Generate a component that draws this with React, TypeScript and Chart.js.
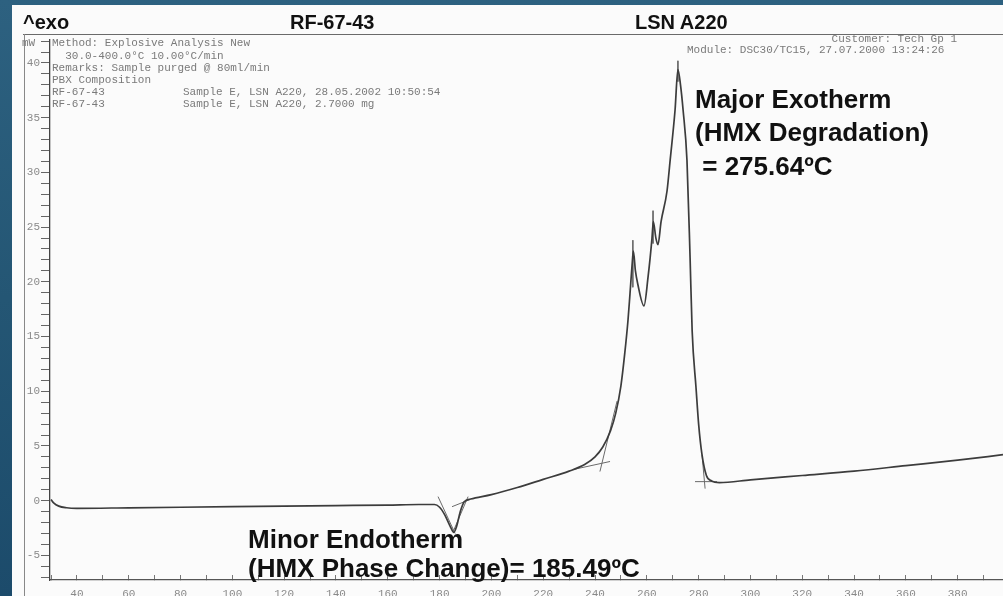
import React, { useEffect, useRef } from "react";
import { Chart, registerables } from "chart.js";

Chart.register(...registerables);

// DSC trace: temperature (°C) vs heat flow (mW)
const temperatures = [
  30, 31, 33, 36, 40, 60, 80, 100, 120, 140, 160, 172, 178, 180, 182, 184, 185.5,
  186.5, 188, 189.5, 192, 200, 210, 220, 230, 236, 240, 243, 246, 248, 250, 251.5,
  252.7, 253.5, 254.3, 254.8, 255.6, 256.5, 258.9, 260.5, 262, 262.5, 263.5, 264.3,
  265.5, 267.8, 269, 270.9, 272, 273, 274, 275.5, 276.7, 277.5, 279, 280, 281.3, 283,
  285, 288, 300, 320, 340, 360, 380, 397.5,
];
const heatFlow = [
  0.1, -0.2, -0.5, -0.65, -0.7, -0.65, -0.6, -0.55, -0.5, -0.45, -0.4, -0.35, -0.35,
  -0.6, -1.3, -2.3, -2.9, -2.4, -1.0, -0.1, 0.15, 0.55, 1.2, 1.95, 2.7, 3.3, 4.0, 4.9,
  6.4, 8.0, 10.5, 13.5, 16.4, 18.9, 21.5, 22.8, 21.0, 19.8, 17.8, 20.5, 24.0, 25.5,
  24.0, 23.4, 25.5, 28.3, 31.1, 35.7, 39.4, 38.0, 35.7, 31.1, 22.2, 15.5, 10.3, 7.0,
  4.2, 2.3, 1.8, 1.65, 1.9, 2.3, 2.7, 3.2, 3.7, 4.2,
];

// Evaluation construction lines (tangents / markers): [t1, v1, t2, v2]
const constructionSegments = [
  [179.4, 0.37, 186.0, -3.0],
  [191.0, 0.37, 185.2, -2.85],
  [184.8, -0.55, 191.7, 0.1],
  [231.5, 2.84, 245.8, 3.58],
  [241.9, 2.66, 248.5, 9.1],
  [278.6, 1.74, 287.1, 1.74],
  [281.3, 4.2, 282.5, 1.1],
  [272.0, 40.2, 272.0, 38.3],
  [254.6, 23.8, 254.6, 19.5],
  [262.4, 26.5, 262.4, 23.5],
];

const xMin = 29.6;
const xMax = 397.5;
const yMin = -7.25;
const yMax = 42.1;
const xTickValues = [30, 40, 50, 60, 70, 80, 90, 100, 110, 120, 130, 140, 150, 160, 170, 180, 190, 200, 210, 220, 230, 240, 250, 260, 270, 280, 290, 300, 310, 320, 330, 340, 350, 360, 370, 380, 390];
const xLabelStep = 20;
const yTickValues = [-7, -6, -5, -4, -3, -2, -1, 0, 1, 2, 3, 4, 5, 6, 7, 8, 9, 10, 11, 12, 13, 14, 15, 16, 17, 18, 19, 20, 21, 22, 23, 24, 25, 26, 27, 28, 29, 30, 31, 32, 33, 34, 35, 36, 37, 38, 39, 40, 41, 42];
const yLabelStep = 5;

const headerTitles = ["^exo", "RF-67-43", "LSN A220"];
const methodLines = [
  "Method: Explosive Analysis New",
  "  30.0-400.0°C 10.00°C/min",
  "Remarks: Sample purged @ 80ml/min",
  "PBX Composition",
  "RF-67-43",
  "RF-67-43",
];
const sampleLines = [
  "Sample E, LSN A220, 28.05.2002 10:50:54",
  "Sample E, LSN A220, 2.7000 mg",
];
const moduleLines = ["Customer: Tech Gp 1", "Module: DSC30/TC15, 27.07.2000 13:24:26"];
const exoNote = ["Major Exotherm", "(HMX Degradation)", " = 275.64ºC"];
const endoNote = ["Minor Endotherm", "(HMX Phase Change)= 185.49ºC"];

const MONO = "'Liberation Mono', 'DejaVu Sans Mono', monospace";
const SANS = "'Liberation Sans', Arial, sans-serif";

export default function App() {
  const canvasRef = useRef<HTMLCanvasElement | null>(null);

  useEffect(() => {
    document.body.style.margin = "0";
    document.body.style.overflow = "hidden";
    const canvas = canvasRef.current;
    if (!canvas) return;

    const curve = temperatures.map((t, i) => ({ x: t, y: heatFlow[i] }));
    const construction: { x: number; y: number | null }[] = [];
    constructionSegments.forEach((s) => {
      construction.push({ x: s[0], y: s[1] });
      construction.push({ x: s[2], y: s[3] });
      construction.push({ x: s[2], y: null });
    });

    const chart = new Chart(canvas, {
      type: "line",
      data: {
        datasets: [
          {
            data: curve,
            borderColor: "#3c3c3c",
            borderWidth: 1.7,
            pointRadius: 0,
            cubicInterpolationMode: "monotone",
            fill: false,
          },
          {
            data: construction as any,
            borderColor: "#6a6a6a",
            borderWidth: 1,
            pointRadius: 0,
            tension: 0,
            spanGaps: false,
            fill: false,
          },
        ],
      },
      options: {
        animation: false,
        responsive: false,
        devicePixelRatio: 1,
        layout: { padding: { left: 0, top: 35, right: 0, bottom: 0 } },
        plugins: { legend: { display: false }, tooltip: { enabled: false }, title: { display: false } },
        scales: {
          x: {
            type: "linear",
            min: xMin,
            max: xMax,
            afterBuildTicks: (scale: any) => {
              scale.ticks = xTickValues.map((v) => ({ value: v }));
            },
            afterFit: (scale: any) => {
              scale.height = 16;
            },
            ticks: {
              autoSkip: false,
              maxRotation: 0,
              padding: 12,
              color: "#8a8a8a",
              font: { family: MONO, size: 11 },
              callback: (v: any) => (Number(v) % xLabelStep === 0 ? String(v) : ""),
            },
            grid: { drawOnChartArea: false, drawTicks: true, tickLength: -5, tickColor: "#777" },
            border: { display: true, color: "#555", width: 1.3 },
          },
          y: {
            type: "linear",
            min: yMin,
            max: yMax,
            afterBuildTicks: (scale: any) => {
              scale.ticks = yTickValues.map((v) => ({ value: v }));
            },
            afterFit: (scale: any) => {
              scale.width = 38;
            },
            ticks: {
              autoSkip: false,
              padding: 1,
              color: "#8a8a8a",
              font: { family: MONO, size: 11 },
              callback: (v: any) => (Number(v) % yLabelStep === 0 ? String(v) : ""),
            },
            grid: { drawOnChartArea: false, drawTicks: true, tickLength: 9, tickColor: "#666" },
            border: { display: true, color: "#444", width: 1.3 },
          },
        },
      },
    });
    return () => chart.destroy();
  }, []);

  const mono = (text: string, left: number, cy: number, extra: React.CSSProperties = {}) => (
    <div
      key={text + left + cy}
      style={{
        position: "absolute",
        left,
        top: cy - 6,
        height: 12,
        lineHeight: "12px",
        fontFamily: MONO,
        fontSize: 11,
        color: "#7a7a7a",
        whiteSpace: "pre",
        ...extra,
      }}
    >
      {text}
    </div>
  );

  const bold = (text: string, left: number, cy: number, size: number) => (
    <div
      key={text + left + cy}
      style={{
        position: "absolute",
        left,
        top: cy - size / 2 - 1,
        lineHeight: `${size}px`,
        fontFamily: SANS,
        fontWeight: "bold",
        fontSize: size,
        color: "#111",
        whiteSpace: "pre",
      }}
    >
      {text}
    </div>
  );

  const headerLeft = [23, 290, 635];
  const methodY = [43, 56, 68, 80, 92, 104];

  return (
    <div
      style={{
        position: "absolute",
        left: 0,
        top: 0,
        width: 1003,
        height: 596,
        overflow: "hidden",
        background: "linear-gradient(180deg, #2d6180 0%, #245674 50%, #1c4b6b 100%)",
      }}
    >
      <div
        style={{
          position: "absolute",
          left: 12,
          top: 5,
          width: 991,
          height: 591,
          background: "#fbfbfb",
        }}
      >
        <canvas ref={canvasRef} width={991} height={591} style={{ width: 991, height: 591, display: "block" }} />
      </div>
      {/* page frame lines */}
      <div style={{ position: "absolute", left: 23, top: 34, width: 980, height: 0, borderTop: "1.5px solid #6a6a6a" }} />
      <div style={{ position: "absolute", left: 24, top: 34, width: 0, height: 562, borderLeft: "1px solid #888" }} />

      {headerTitles.map((t, i) => bold(t, headerLeft[i], 23, 20))}
      {mono("mW", 22, 43)}
      {methodLines.map((t, i) => mono(t, 52, methodY[i]))}
      {sampleLines.map((t, i) => mono(t, 183, methodY[4 + i]))}
      {mono(moduleLines[0], 0, 39, { left: "auto", right: 46 })}
      {mono(moduleLines[1], 687, 50)}

      {exoNote.map((t, i) => bold(t, 695, [100, 133, 167][i], 26))}
      {endoNote.map((t, i) => bold(t, 248, [540, 569][i], 26))}
    </div>
  );
}
